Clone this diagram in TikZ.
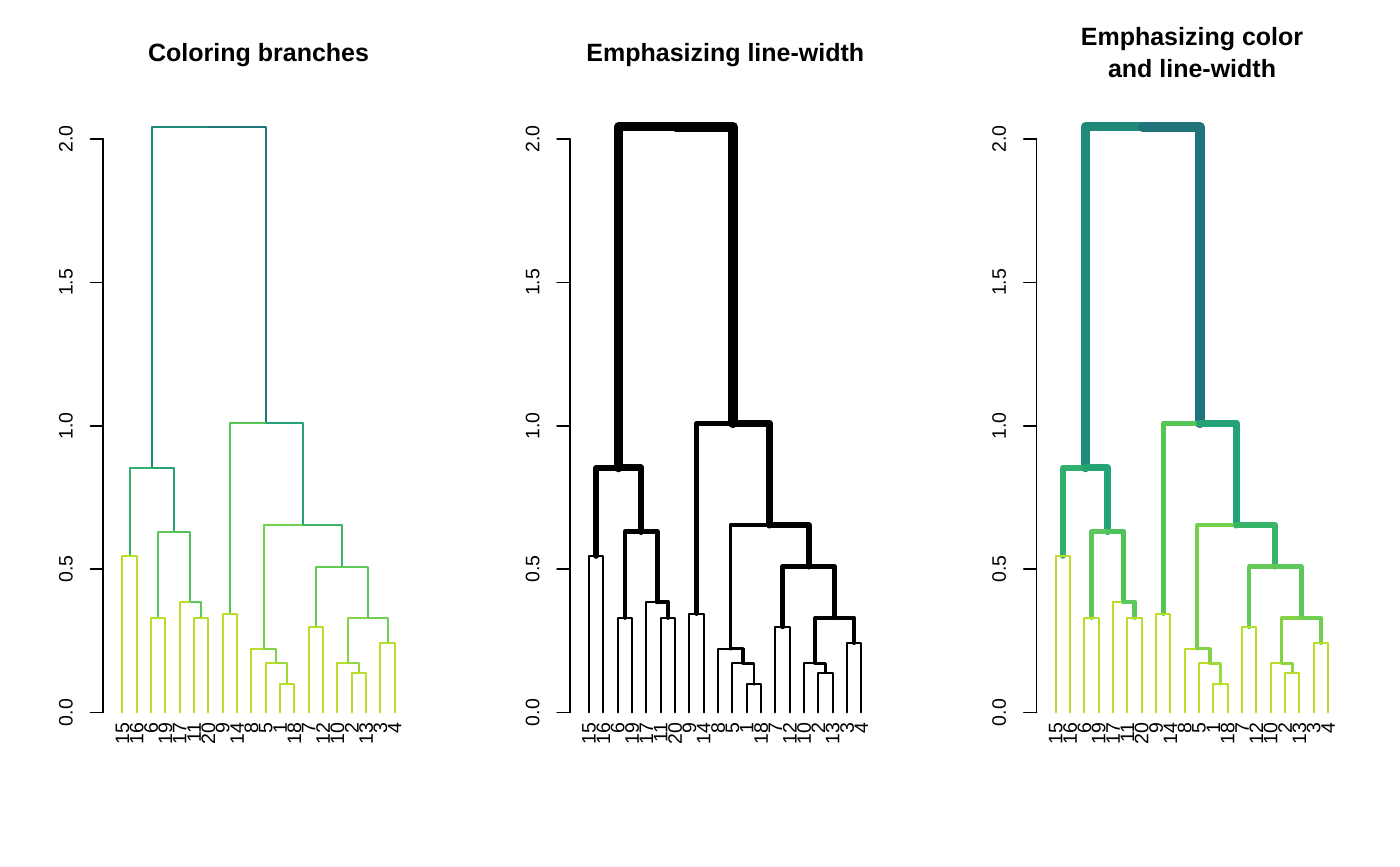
\documentclass[tikz,border=0pt]{standalone}
\usepackage{fontspec}
\setmainfont{Liberation Sans}
\usetikzlibrary{positioning}

% branch colours, taken by the height of the lower end
\definecolor{leafcol}{HTML}{B8DE29}
\definecolor{colA}{HTML}{30B06C}
\definecolor{colB}{HTML}{5CC85C}
\definecolor{colD}{HTML}{4FC25A}
\definecolor{colE}{HTML}{24A474}
\definecolor{colF}{HTML}{1F8A78}
\definecolor{colG}{HTML}{55C555}
\definecolor{colH}{HTML}{9CD93A}
\definecolor{colI}{HTML}{84D245}
\definecolor{colJ}{HTML}{74CF4C}
\definecolor{colK}{HTML}{64CA56}
\definecolor{colL}{HTML}{8FD641}
\definecolor{colN}{HTML}{70CE50}
\definecolor{colP}{HTML}{38B566}
\definecolor{colQ}{HTML}{23A274}
\definecolor{colR}{HTML}{21737C}

\begin{document}
\begin{tikzpicture}[
		x=0.5pt, y=0.5pt,
		title/.style={font=\fontsize{12.5pt}{15pt}\selectfont\bfseries, inner sep=0, anchor=base},
		ticklab/.style={font=\fontsize{9.75pt}{12pt}\selectfont, rotate=90, inner sep=0, anchor=south},
		leaflab/.style={font=\fontsize{9.75pt}{12pt}\selectfont, rotate=90, inner sep=0, anchor=east},
		axisline/.style={black, line width=0.9pt, line cap=round},
		branch/.style={line cap=round, line join=round}
		]
		\useasboundingbox (0,0) rectangle (1400,866);
		
		% Titles
		\node[title] (title1) at (258.6,804) {Coloring branches};
		\node[title] (title2) at (725.3,804) {Emphasizing line-width};
		\node[title] (title3a) at (1192,820) {Emphasizing color};
		\node[title] (title3b) at (1192,788) {and line-width};
		
		% Panels: origin, width factor, colour amount
		\foreach \p/\xo/\wf/\mix in {1/108.07/0/100, 2/574.73/1/0, 3/1041.4/1/100}{
			\begin{scope}[shift={(\xo,153.5)}, x=7.1667pt, y=143.35pt]
				% Axis
				\draw[axisline] (-0.34,0) -- (-0.34,2);
				\foreach \t [count=\k] in {0.0,0.5,1.0,1.5,2.0}{
					\draw[axisline] (-0.34,\t) -- ++(-6.35pt,0);
					\path (-0.34,\t) ++(-15pt,0) node[ticklab] (tick\p-\k) {\t};
				}
				% Leaf labels
				\foreach \lab [count=\i] in {15,16,6,19,17,11,20,9,14,8,5,1,18,7,12,10,2,13,3,4}
					\path (\i,0) ++(0,-4.75pt) node[leaflab] (leaf\p-\i) {\lab};
				% Branches: upper x/h, lower x/h, colour
				\foreach \px/\ph/\cx/\ch/\cc in {
						7.0547/2.043/3.0625/0.853/colF, 7.0547/2.043/11.0469/1.009/colR,
						3.0625/0.853/1.5/0.547/colA, 3.0625/0.853/4.625/0.631/colE,
						11.0469/1.009/8.5/0.345/colG, 11.0469/1.009/13.5938/0.654/colQ,
						1.5/0.547/1/0/leafcol, 1.5/0.547/2/0/leafcol,
						4.625/0.631/3.5/0.331/colB, 4.625/0.631/5.75/0.386/colD,
						8.5/0.345/8/0/leafcol, 8.5/0.345/9/0/leafcol,
						13.5938/0.654/10.875/0.2225/colJ, 13.5938/0.654/16.3125/0.509/colP,
						3.5/0.331/3/0/leafcol, 3.5/0.331/4/0/leafcol,
						5.75/0.386/5/0/leafcol, 5.75/0.386/6.5/0.331/colB,
						6.5/0.331/6/0/leafcol, 6.5/0.331/7/0/leafcol,
						10.875/0.2225/10/0/leafcol, 10.875/0.2225/11.75/0.172/colI,
						11.75/0.172/11/0/leafcol, 11.75/0.172/12.5/0.098/colH,
						12.5/0.098/12/0/leafcol, 12.5/0.098/13/0/leafcol,
						16.3125/0.509/14.5/0.298/colK, 16.3125/0.509/18.125/0.33/colB,
						14.5/0.298/14/0/leafcol, 14.5/0.298/15/0/leafcol,
						18.125/0.33/16.75/0.172/colI, 18.125/0.33/19.5/0.242/colN,
						16.75/0.172/16/0/leafcol, 16.75/0.172/17.5/0.139/colL,
						17.5/0.139/17/0/leafcol, 17.5/0.139/18/0/leafcol,
						19.5/0.242/19/0/leafcol, 19.5/0.242/20/0/leafcol}
					\draw[branch, draw=\cc!\mix!black, line width={(1.0+\wf*3.9*\ch)*1pt}]
						(\px,\ph) -- (\cx,\ph) -- (\cx,\ch);
			\end{scope}
		}
		
	\end{tikzpicture}
\end{document}
